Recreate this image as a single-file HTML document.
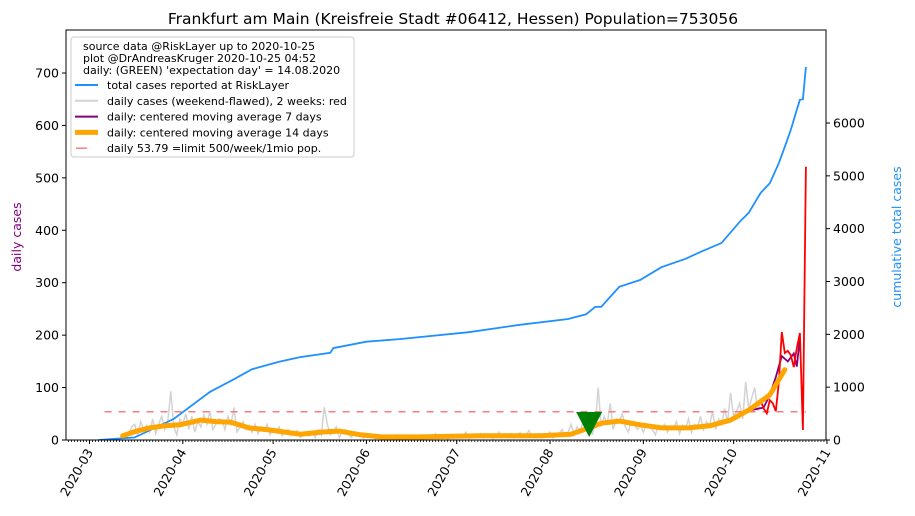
<!DOCTYPE html>
<html><head><meta charset="utf-8">
<style>
body{margin:0;background:#fff;}
svg{display:block;font-family:"DejaVu Sans","Liberation Sans",sans-serif;}
</style></head>
<body>
<svg id="chart" width="915" height="516" viewBox="0 0 915 516">
<text x="453" y="24" text-anchor="middle" font-size="15.5" fill="#000">Frankfurt am Main (Kreisfreie Stadt #06412, Hessen) Population=753056</text>
<text transform="translate(21,237) rotate(-90)" text-anchor="middle" font-size="12.5" fill="purple">daily cases</text>
<text transform="translate(901,237) rotate(-90)" text-anchor="middle" font-size="12.5" fill="#1e90ff">cumulative total cases</text>
<g id="plot"></g>
</svg>
<script>
// ---- data ----
const rawStartDay = 9; // days after 2020-03-01
const rawDaily = [0,2,5,3,10,25,30, 8,35,20,28,15,40,12, 30,45,20,35,93,25,10, 40,30,50,20,45,15,35,
25,48,30,55,20,30,40, 38,20,45,30,62,15,25, 35,20,28,15,30,12,25, 18,30,10,22,15,25,8,
15,20,8,12,18,5,10, 12,8,15,5,20,10,63, 30,10,18,25,5,15,20, 10,5,15,8,12,3,8,
5,10,2,8,4,6,3, 8,4,10,2,6,5,9, 3,7,5,10,2,6,4, 8,12,3,6,9,2,7, 5,10,4,8,15,3,6,
9,5,12,4,7,10,3, 8,15,5,10,6,12,4, 9,14,5,10,18,6,8, 12,5,10,7,15,4,9, 12,20,8,15,30,10,25,
15,35,20,40,10,30,100, 25,45,30,70,20,40,35, 50,25,15,35,30,20,28, 15,30,25,20,10,28,22,
30,15,25,20,35,12,28, 22,40,15,30,25,45,20, 35,28,55,20,40,30,60, 35,90,45,55,70,40,111,
60,80,100,55,75];
const redDays = [223,224,225,226,227,228,229,230,231,232,233,234,235,236,237,238];
const redValues = [75,60,51,76,70,55,109,206,166,170,162,139,175,204,19,521];
const ma7Days = [11,15,20,25,30,37,42,47,53,60,65,70,77,80,83,90,97,110,130,150,160,166,170,176,183,190,199,206,213,219,224,226,228,230,232,234,235,236];
const ma7Values = [8,18,25,30,28,38,36,34,24,19,14,11,17,19,18,10,6,6,8,7,12,24,32,37,28,22,22,27,40,56,62,86,120,160,150,165,140,195];
const ma14Days = [11,15,20,25,30,37,42,47,53,60,65,70,77,83,90,97,110,130,150,160,166,170,176,183,190,199,206,213,219,226,231];
const ma14Values = [8,16,23,27,29,38,35,34,23,19,15,11,15,17,10,6,6,8,8,11,23,32,36,29,23,23,27,38,57,86,134];
const cumDays = [3,15,28,40,48,54,63,70,80,81,92,103,110,126,143,159,165,168,170,176,183,190,198,203,210,216,219,223,226,229,231,233,235,236,237,238];
const cumValues = [0,50,400,910,1150,1340,1480,1570,1650,1740,1860,1910,1950,2040,2180,2290,2380,2520,2520,2900,3030,3270,3430,3560,3730,4130,4300,4680,4860,5240,5550,5870,6250,6440,6450,7060];
const limitValue = 53.79;
const expectationDay = 166;
const leftTicks = [0,100,200,300,400,500,600,700];
const rightTicks = [0,1000,2000,3000,4000,5000,6000];
const monthLabels = ["2020-03","2020-04","2020-05","2020-06","2020-07","2020-08","2020-09","2020-10","2020-11"];
const monthDays = [0,31,61,92,122,153,184,214,245];

// ---- scales ----
const L=66,R=826,T=30,B=440;
const x = d => 89.5 + d*3.01;
const yL = v => 440 - v*0.5243;
const yR = v => 440 - v*0.05283;
const NS="http://www.w3.org/2000/svg";
const plot=document.getElementById('plot');
function mk(tag,attrs,parent){const e=document.createElementNS(NS,tag);for(const k in attrs)e.setAttribute(k,attrs[k]);(parent||plot).appendChild(e);return e;}
function pathOf(days,vals,fy){return days.map((d,i)=>(i?'L':'M')+x(d).toFixed(1)+','+fy(vals[i]).toFixed(1)).join('');}

const defs=mk('defs',{});
const cp=mk('clipPath',{id:'clip'},defs);
mk('rect',{x:L,y:T,width:R-L,height:B-T},cp);
const g=mk('g',{'clip-path':'url(#clip)'});

const rawDays=rawDaily.map((_,i)=>rawStartDay+i);
let e=mk('path',{d:pathOf(rawDays,rawDaily,yL),fill:'none',stroke:'#d3d3d3','stroke-width':1.5},g);


e=mk('path',{d:pathOf(cumDays,cumValues,yR),fill:'none',stroke:'#1e90ff','stroke-width':1.8},g);


e=mk('line',{x1:x(5),x2:x(238),y1:yL(limitValue),y2:yL(limitValue),stroke:'#f08080','stroke-width':1.5,'stroke-dasharray':'7,7'},g);


e=mk('path',{d:pathOf(ma7Days,ma7Values,yL),fill:'none',stroke:'purple','stroke-width':1.8},g);


e=mk('path',{d:pathOf(redDays,redValues,yL),fill:'none',stroke:'red','stroke-width':1.8},g);


e=mk('path',{d:pathOf(ma14Days,ma14Values,yL),fill:'none',stroke:'orange','stroke-width':5,'stroke-linejoin':'round','stroke-linecap':'round'},g);


const ex=x(expectationDay);
e=mk('polygon',{points:`${ex-13},412 ${ex+13},412 ${ex},437`,fill:'green'},g);



e=mk('rect',{x:L,y:T,width:R-L,height:B-T,fill:'none',stroke:'#000','stroke-width':1});



leftTicks.forEach(v=>{
  mk('line',{x1:L-4,x2:L,y1:yL(v),y2:yL(v),stroke:'#000'});
  const t=mk('text',{x:L-7,y:yL(v)+4.5,'text-anchor':'end','font-size':12.5});
  t.textContent=v;
  
  
});
rightTicks.forEach(v=>{
  mk('line',{x1:R,x2:R+4,y1:yR(v),y2:yR(v),stroke:'#000'});
  const t=mk('text',{x:R+7,y:yR(v)+4.5,'text-anchor':'start','font-size':12.5});
  t.textContent=v;
  
  
});
for(let d=-7;d<=245;d++){const xx=x(d);if(xx<L||xx>R+0.5)continue;mk('line',{x1:xx,x2:xx,y1:B,y2:B+2,stroke:'#000','stroke-width':0.8});}
monthDays.forEach((d,i)=>{
  const xx=x(d);
  mk('line',{x1:xx,x2:xx,y1:B,y2:B+4,stroke:'#000'});
  const t=mk('text',{transform:`translate(${xx+4},${B+12}) rotate(-60)`,'text-anchor':'end','font-size':12.5});
  t.textContent=monthLabels[i];
  
  
});

const lg=mk('g',{});


mk('rect',{x:71,y:37,width:283,height:120,rx:3,fill:'#fff','fill-opacity':0.8,stroke:'#ccc'},lg);
const lines=["source data @RiskLayer up to 2020-10-25","plot @DrAndreasKruger 2020-10-25 04:52","daily: (GREEN) 'expectation day' = 14.08.2020"];
lines.forEach((s,i)=>{const t=mk('text',{x:83,y:50+i*12,'font-size':11},lg);t.textContent=s;});
const entries=[["total cases reported at RiskLayer",'#1e90ff',2,null],["daily cases (weekend-flawed), 2 weeks: red",'#d3d3d3',2,null],["daily: centered moving average 7 days",'purple',2,null],["daily: centered moving average 14 days",'orange',5,null],["daily 53.79 =limit 500/week/1mio pop.",'#f08080',1.5,null]];
entries.forEach((en,i)=>{
  const yy=85+i*15.8;
  mk('line',{x1:i==4?76:75,x2:i==4?87:98,y1:yy,y2:yy,stroke:en[1],'stroke-width':en[2]},lg);
  const t=mk('text',{x:107,y:yy+4,'font-size':11},lg);t.textContent=en[0];
  
  
});
</script>
</body></html>
